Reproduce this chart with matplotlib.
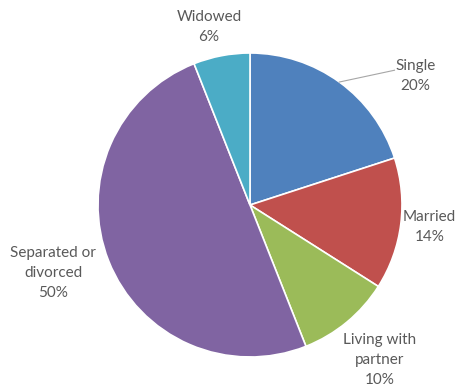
import numpy as np
import matplotlib.pyplot as plt

# marital status shares (%)
labels = ['Single', 'Married', 'Living with\npartner', 'Separated or\ndivorced', 'Widowed']
shares = [20, 14, 10, 50, 6]
colors = ['#4F81BD', '#C0504D', '#9BBB59', '#8064A2', '#4BACC6']

# label placement: (distance in radii, angle in degrees)
label_pos = [(1.38, 38), (1.19, -7), (1.33, -50), (1.37, 199), (1.20, 103)]

fig = plt.figure(figsize=(4.63, 3.87), dpi=100)
ax = fig.add_axes([0, 0, 1, 1])

cx, cy, r = 250, 182, 152
wedges, _ = ax.pie(shares, colors=colors, startangle=90, counterclock=False,
                   center=(cx, cy), radius=r, frame=True,
                   wedgeprops=dict(edgecolor='white', linewidth=1.2))
ax.set_xlim(0, 463)
ax.set_ylim(0, 387)
ax.set_aspect('equal')
ax.axis('off')

for w, lab, val, (d, ang) in zip(wedges, labels, shares, label_pos):
    a = np.deg2rad(ang)
    tx, ty = cx + d * r * np.cos(a), cy + d * r * np.sin(a)
    ax.text(tx, ty, f'{lab}\n{val}%', ha='center', va='center',
            fontsize=11, family='Lato', color='#595959', linespacing=1.55)

# leader line for the Single label
mid = np.deg2rad((wedges[0].theta1 + wedges[0].theta2) / 2)
ax.plot([cx + r * np.cos(mid), cx + 1.3 * r * np.cos(np.deg2rad(43))],
        [cy + r * np.sin(mid), cy + 1.3 * r * np.sin(np.deg2rad(43))],
        color='#A6A6A6', lw=0.8)

fig.savefig('out.png', dpi=100)
